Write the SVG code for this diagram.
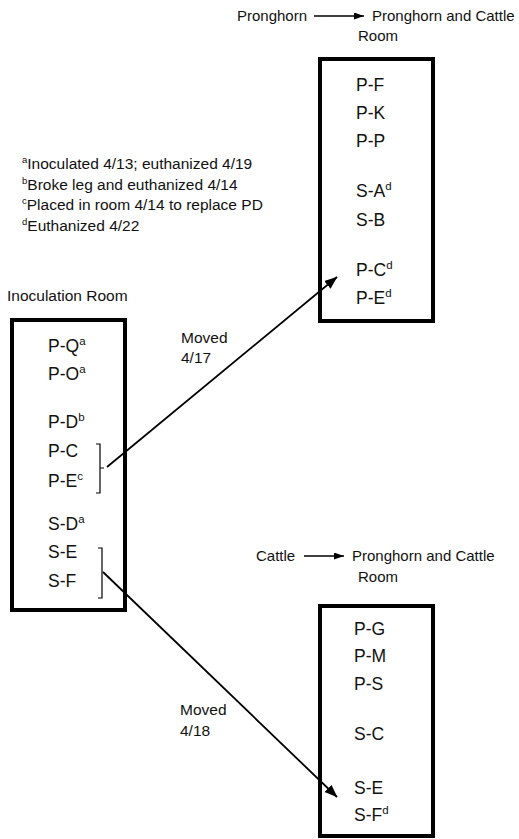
<svg xmlns="http://www.w3.org/2000/svg" width="519" height="839" viewBox="0 0 519 839">
<style>
text{font-family:"Liberation Sans",Arial,sans-serif;fill:#111}
.s{font-size:15px}
.f{font-size:15.5px}
.b{font-size:17.5px}
.sup{font-size:11.5px}
.fsup{font-size:9.5px}
.box{fill:#fff;stroke:#000;stroke-width:4}
.br{fill:none;stroke:#000;stroke-width:1.2}
.ln{fill:none;stroke:#000;stroke-width:1.8}
.hl{fill:none;stroke:#000;stroke-width:1.6}
</style>
<defs>
<marker id="ah" markerUnits="userSpaceOnUse" markerWidth="13" markerHeight="11" refX="12.5" refY="5" orient="auto"><path d="M0,0 L13,5 L0,10 z" fill="#000"/></marker>
<marker id="hh" markerUnits="userSpaceOnUse" markerWidth="10" markerHeight="8" refX="10" refY="3.5" orient="auto"><path d="M0,0 L10,3.5 L0,7 z" fill="#000"/></marker>
</defs>

<g id="footnotes">
<text class="f" x="22" y="169"><tspan class="fsup" dy="-6">a</tspan><tspan dy="6">Inoculated 4/13; euthanized 4/19</tspan></text>
<text class="f" x="22" y="190"><tspan class="fsup" dy="-6">b</tspan><tspan dy="6">Broke leg and euthanized 4/14</tspan></text>
<text class="f" x="22" y="210"><tspan class="fsup" dy="-6">c</tspan><tspan dy="6">Placed in room 4/14 to replace PD</tspan></text>
<text class="f" x="22" y="231"><tspan class="fsup" dy="-6">d</tspan><tspan dy="6">Euthanized 4/22</tspan></text>
</g>

<g id="pronghorn-header">
<text class="s" x="237" y="21">Pronghorn</text>
<text class="s" x="372" y="21">Pronghorn and Cattle</text>
<text class="s" x="358" y="41">Room</text>
</g>

<g id="cattle-header">
<text class="s" x="256" y="561">Cattle</text>
<text class="s" x="352" y="561">Pronghorn and Cattle</text>
<text class="s" x="358" y="582">Room</text>
</g>

<g id="inoculation-room">
<text class="f" x="7" y="301">Inoculation Room</text>
<rect class="box" x="12" y="320" width="113" height="290"/>
<text class="b" x="48" y="352">P-Q<tspan class="sup" dy="-7">a</tspan></text>
<text class="b" x="48" y="380">P-O<tspan class="sup" dy="-7">a</tspan></text>
<text class="b" x="48" y="428">P-D<tspan class="sup" dy="-7">b</tspan></text>
<text class="b" x="48" y="457">P-C</text>
<text class="b" x="48" y="487">P-E<tspan class="sup" dy="-7">c</tspan></text>
<text class="b" x="48" y="530">S-D<tspan class="sup" dy="-7">a</tspan></text>
<text class="b" x="48" y="558">S-E</text>
<text class="b" x="48" y="587">S-F</text>
<path class="br" d="M96,444 H100 V493 H96 M100,468 H104"/>
<path class="br" d="M98,548 H102 V598 H98"/>
</g>

<g id="pronghorn-cattle-room-1">
<rect class="box" x="320" y="59" width="113" height="262"/>
<text class="b" x="356" y="91">P-F</text>
<text class="b" x="356" y="119">P-K</text>
<text class="b" x="356" y="147">P-P</text>
<text class="b" x="356" y="197">S-A<tspan class="sup" dy="-7">d</tspan></text>
<text class="b" x="356" y="226">S-B</text>
<text class="b" x="356" y="276">P-C<tspan class="sup" dy="-7">d</tspan></text>
<text class="b" x="356" y="304">P-E<tspan class="sup" dy="-7">d</tspan></text>
</g>

<g id="pronghorn-cattle-room-2">
<rect class="box" x="320" y="606" width="113" height="230"/>
<text class="b" x="354" y="635">P-G</text>
<text class="b" x="354" y="662">P-M</text>
<text class="b" x="354" y="690">P-S</text>
<text class="b" x="354" y="740">S-C</text>
<text class="b" x="354" y="794">S-E</text>
<text class="b" x="354" y="821">S-F<tspan class="sup" dy="-7">d</tspan></text>
</g>

<g id="labels">
<text class="f" x="181" y="343">Moved</text>
<text class="f" x="181" y="363">4/17</text>
<text class="f" x="180" y="715">Moved</text>
<text class="f" x="180" y="736">4/18</text>
</g>

<g id="connectors">
<line class="hl" x1="314" y1="16" x2="364" y2="16" marker-end="url(#hh)"/>
<line class="hl" x1="304" y1="556" x2="344" y2="556" marker-end="url(#hh)"/>
<line class="ln" x1="107" y1="467" x2="337" y2="277" marker-end="url(#ah)"/>
<line class="ln" x1="103" y1="572" x2="337" y2="797" marker-end="url(#ah)"/>
</g>
</svg>
